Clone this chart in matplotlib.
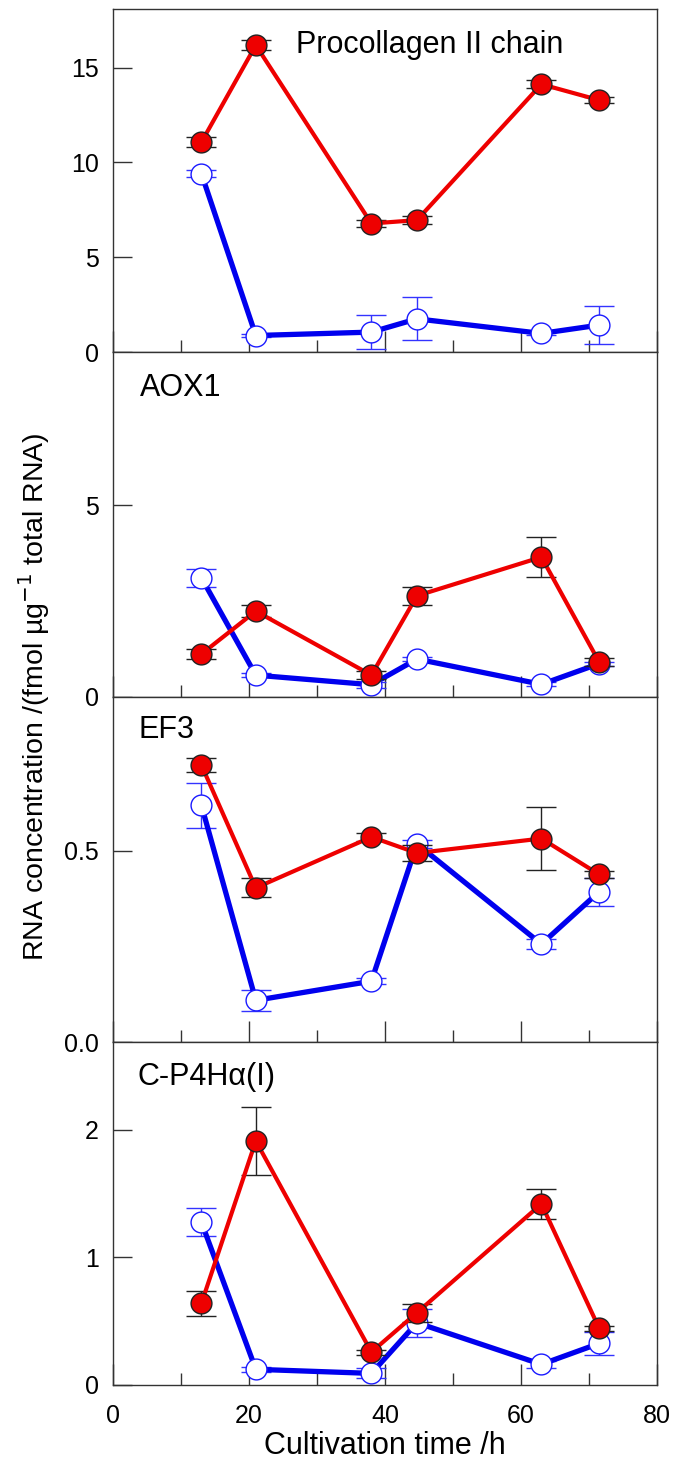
import matplotlib
matplotlib.use("Agg")
import matplotlib.pyplot as plt

plt.rcParams['font.family'] = ['Liberation Sans', 'DejaVu Sans']

time_h = [13, 21, 38, 44.7, 63, 71.5]

panel_titles = ["Procollagen II chain", "AOX1", "EF3", "C-P4H\u03b1(I)"]

# red (filled) series
red_vals = [
    [11.07, 16.19, 6.78, 6.96, 14.13, 13.29],
    [1.12, 2.24, 0.57, 2.64, 3.65, 0.91],
    [0.724, 0.403, 0.536, 0.494, 0.532, 0.438],
    [0.64, 1.914, 0.258, 0.567, 1.42, 0.444],
]
red_err = [
    [0.25, 0.25, 0.2, 0.2, 0.2, 0.15],
    [0.13, 0.16, 0.1, 0.23, 0.52, 0.1],
    [0.018, 0.025, 0.01, 0.022, 0.082, 0.01],
    [0.097, 0.27, 0.02, 0.07, 0.115, 0.02],
]
# blue (open) series
blue_vals = [
    [9.41, 0.87, 1.05, 1.75, 0.98, 1.42],
    [3.11, 0.57, 0.32, 0.99, 0.33, 0.87],
    [0.619, 0.109, 0.159, 0.518, 0.256, 0.393],
    [1.277, 0.123, 0.091, 0.488, 0.162, 0.326],
]
blue_err = [
    [0.2, 0.1, 0.9, 1.13, 0.1, 0.99],
    [0.24, 0.05, 0.08, 0.06, 0.05, 0.05],
    [0.059, 0.028, 0.008, 0.01, 0.012, 0.037],
    [0.108, 0.02, 0.04, 0.11, 0.03, 0.087],
]

y_limits = [18.1, 9.0, 0.902, 2.69]
y_ticks = [[0, 5, 10, 15], [0, 5], [0.0, 0.5], [0, 1, 2]]
y_ticklabels = [["0", "5", "10", "15"], ["0", "5"], ["0.0", "0.5"], ["0", "1", "2"]]
x_ticks = [0, 20, 40, 60, 80]
x_minor = [10, 30, 50, 70]

W, H = 676, 1462
fig = plt.figure(figsize=(W / 100, H / 100), dpi=100)

left_px, right_px = 113, 657
tops = [9, 352, 697, 1042]
bottoms = [352, 697, 1042, 1385]

title_pos = [(0.336, 0.895), (0.05, 0.896), (0.047, 0.904), (0.045, 0.898)]

for i in range(4):
    ax = fig.add_axes([left_px / W, 1 - bottoms[i] / H,
                       (right_px - left_px) / W, (bottoms[i] - tops[i]) / H])
    ax.errorbar(time_h, blue_vals[i], yerr=blue_err[i], color='#0000ee', lw=3.8,
                marker='o', ms=15, mfc='white', mec='#1a1aff', mew=1.0,
                ecolor='#3333ff', elinewidth=1.0, capsize=11, capthick=1.0, zorder=2)
    ax.errorbar(time_h, red_vals[i], yerr=red_err[i], color='#ee0000', lw=3.0,
                marker='o', ms=15, mfc='#ee0000', mec='#222222', mew=1.0,
                ecolor='#222222', elinewidth=1.0, capsize=11, capthick=1.0, zorder=3)
    ax.set_xlim(0, 80)
    ax.set_ylim(0, y_limits[i])
    ax.set_yticks(y_ticks[i])
    ax.set_yticklabels(y_ticklabels[i])
    ax.set_xticks(x_ticks)
    ax.set_xticks(x_minor, minor=True)
    ax.tick_params(axis='y', direction='in', length=14, width=1, labelsize=18,
                   color='#333333', pad=10)
    ax.tick_params(axis='x', which='major', direction='in', length=15, width=1,
                   labelsize=18, color='#333333', pad=14)
    ax.tick_params(axis='x', which='minor', direction='in', length=9, width=1,
                   color='#333333')
    if i < 3:
        ax.tick_params(axis='x', labelbottom=False)
    for s in ax.spines.values():
        s.set_linewidth(1.0)
        s.set_color('#333333')
    ax.text(title_pos[i][0], title_pos[i][1], panel_titles[i], transform=ax.transAxes,
            fontsize=22, ha='left', va='center')
    if i == 3:
        ax.set_xlabel("Cultivation time /h", fontsize=22, labelpad=2)

fig.text(34 / W, 1 - 697 / H, "RNA concentration /(fmol \u00b5g$^{-1}$ total RNA)",
         rotation=90, ha='center', va='center', fontsize=20.5)

fig.savefig("out.png", dpi=100)
